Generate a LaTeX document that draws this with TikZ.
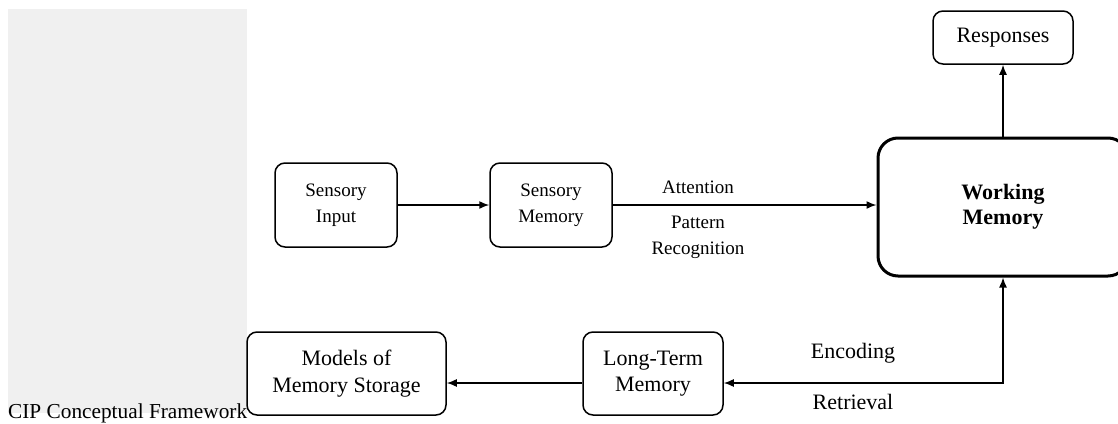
\documentclass[tikz,border=0pt]{standalone}
\usepackage{fontspec}
\setmainfont{Liberation Serif}
\usetikzlibrary{arrows.meta,positioning}
\tikzset{
  blk/.style={draw,line width=1.5pt,rounded corners=10pt,align=center,inner sep=0pt},
  wblk/.style={draw,line width=3pt,rounded corners=20pt,align=center,inner sep=0pt,
    font=\fontsize{22}{25}\selectfont\bfseries},
  txa/.style={font=\fontsize{19}{26}\selectfont},
  txb/.style={font=\fontsize{22}{26.5}\selectfont},
  arr/.style={line width=1.5pt,-{Latex[length=10pt,width=8pt]}},
  arrb/.style={line width=1.5pt,{Latex[length=10pt,width=8pt]}-{Latex[length=10pt,width=8pt]}},
  lbl/.style={align=center,inner sep=0pt},
}

\begin{document}
\begin{tikzpicture}[x=1pt,y=-1pt]
  \useasboundingbox (0,0) rectangle (1118,423);
  \fill[gray!12] (8,9) rectangle (247,413);
  \node[anchor=base west,inner sep=0pt,font=\fontsize{21.3}{24}\selectfont] (cap) at (8,418)
    {CIP Conceptual Framework};
  % top row
  \node[blk,txa,minimum width=122pt,minimum height=84pt] (si) at (336,205) {Sensory\\Input};
  \node[blk,txa,minimum width=122pt,minimum height=84pt] (smem) at (551,205) {Sensory\\Memory};
  \node[wblk,minimum width=250pt,minimum height=138pt] (wm) at (1003,207) {Working\\Memory};
  \node[blk,txb,minimum width=140pt,minimum height=53pt] (resp) at (1003,37.5) {Responses};
  % bottom row
  \node[blk,txb,minimum width=140pt,minimum height=83pt] (ltm) at (653,373.5) {Long-Term\\Memory};
  \node[blk,txb,minimum width=199pt,minimum height=83pt] (mod) at (346.5,373.5) {Models of\\Memory Storage};
  \coordinate (bend) at (1003,383);
  \draw[arr] (si.east) -- (smem.west);
  \draw[arr] (smem.east) -- (smem.east -| wm.west);
  \draw[arr] (wm.north) -- (resp.south);
  \draw[arrb] (ltm.east |- bend) -- (bend) -- (wm.south);
  \draw[arr] (ltm.west |- bend) -- (mod.east |- bend);
  \node[lbl,txa] (att) at (698,187) {Attention};
  \node[lbl,txa] (pat) at (698,237) {Pattern\\Recognition};
  \node[lbl,txb] (enc) at (853,353) {Encoding};
  \node[lbl,txb] (ret) at (853,402) {Retrieval};
\end{tikzpicture}
\end{document}
